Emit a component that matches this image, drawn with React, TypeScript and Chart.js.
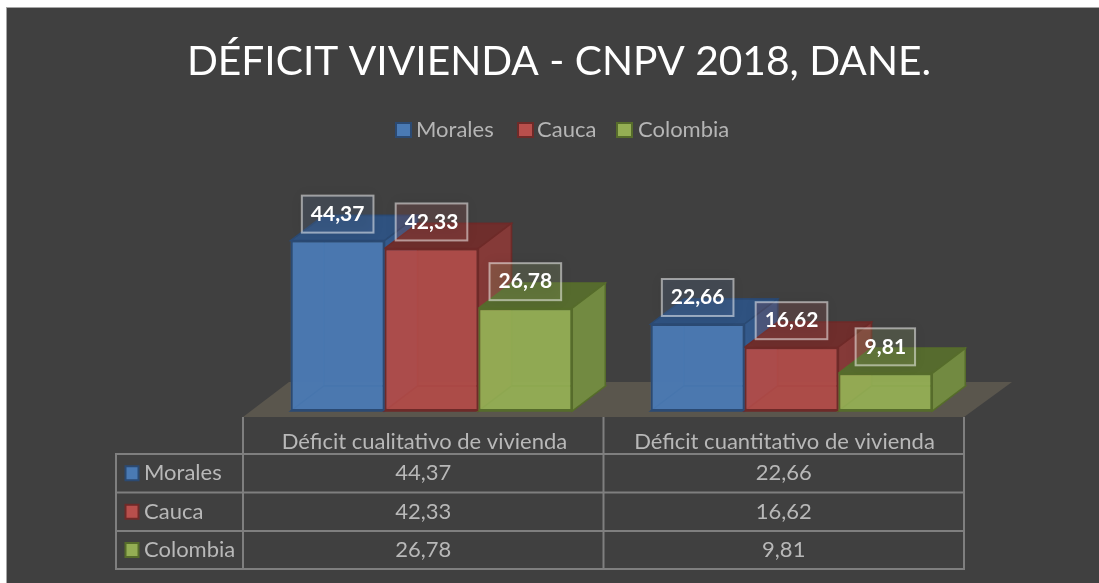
import React, { useEffect, useRef } from "react";
import { Chart, registerables } from "chart.js";

Chart.register(...registerables);

const titleText = "DÉFICIT VIVIENDA - CNPV 2018, DANE.";
const categories = ["Déficit cualitativo de vivienda", "Déficit cuantitativo de vivienda"];
const seriesNames = ["Morales", "Cauca", "Colombia"];
const morales = [44.37, 22.66];
const cauca = [42.33, 16.62];
const colombia = [26.78, 9.81];
const seriesValues = [morales, cauca, colombia];

const FONT = "Lato, Carlito, Calibri, sans-serif";
const fronts = ["rgba(74,122,180,0.9)", "rgba(176,75,72,0.9)", "rgba(148,174,84,0.9)"];
const borders = ["#2b4a73", "#6e2a28", "#566c2b"];
const tops = ["#2f5280", "#6f2e2c", "#566b2e"];
const sides = ["#345a8c", "#853a38", "#728a41"];
const hidden = ["rgba(74,122,180,0.55)", "rgba(176,75,72,0.55)", "rgba(148,174,84,0.55)"];
const labelFills = ["rgba(90,120,160,0.22)", "rgba(170,90,90,0.22)", "rgba(150,170,110,0.22)"];
const swatches = ["#4a7ab4", "#b84f4c", "#94ae54"];
const DX = 33;
const DY = -25;

const fmt = (v: number) => v.toFixed(2).replace(".", ",");

function poly(ctx: CanvasRenderingContext2D, pts: number[][], fill: string, stroke?: string) {
  ctx.beginPath();
  pts.forEach((p, i) => (i ? ctx.lineTo(p[0], p[1]) : ctx.moveTo(p[0], p[1])));
  ctx.closePath();
  ctx.fillStyle = fill;
  ctx.fill();
  if (stroke) {
    ctx.strokeStyle = stroke;
    ctx.lineWidth = 1.5;
    ctx.stroke();
  }
}

const decor = {
  id: "decor",
  beforeDraw(chart: any) {
    const { ctx, width, height } = chart;
    ctx.save();
    ctx.fillStyle = "#ffffff";
    ctx.fillRect(0, 0, width, height);
    ctx.fillStyle = "#a6a6a6";
    ctx.fillRect(6, 7, width - 6, height - 7);
    ctx.fillStyle = "#404040";
    ctx.fillRect(7, 8, width - 7, height - 8);
    ctx.restore();
  },
  beforeDatasetsDraw(chart: any) {
    const { ctx, chartArea } = chart;
    const b = chartArea.bottom;
    ctx.save();
    poly(ctx, [[243, b + 6], [289, b - 29], [1012, b - 29], [964, b + 6]], "#5a564d");
    // 3D faces of every bar, left series first; the fronts are the library's own bars
    seriesNames.forEach((_, i) => {
      chart.getDatasetMeta(i).data.forEach((el: any) => {
        const { x, y, base, width } = el.getProps(["x", "y", "base", "width"], true);
        const l = x - width / 2;
        const r = x + width / 2;
        poly(ctx, [[l + DX, y + DY], [r + DX, y + DY], [r + DX, base + DY], [l + DX, base + DY]], hidden[i], borders[i]);
        poly(ctx, [[l, base], [l + DX, base + DY], [l + DX, y + DY], [l, y]], hidden[i]);
        poly(ctx, [[l, base], [r, base], [r + DX, base + DY], [l + DX, base + DY]], hidden[i], borders[i]);
        poly(ctx, [[l, y], [r, y], [r + DX, y + DY], [l + DX, y + DY]], tops[i], borders[i]);
        poly(ctx, [[r, y], [r + DX, y + DY], [r + DX, base + DY], [r, base]], sides[i], borders[i]);
      });
    });
    ctx.restore();
  },
  afterDatasetsDraw(chart: any) {
    const { ctx } = chart;
    ctx.save();

    // data labels
    ctx.font = `bold 21px ${FONT}`;
    ctx.textAlign = "center";
    ctx.textBaseline = "middle";
    chart.data.datasets.forEach((ds: any, i: number) => {
      chart.getDatasetMeta(i).data.forEach((el: any, j: number) => {
        const text = fmt(ds.data[j]);
        const w = ctx.measureText(text).width + 18;
        const cx = el.x;
        const cy = el.y - 26.5;
        ctx.save();
        ctx.shadowColor = "rgba(0,0,0,0.35)";
        ctx.shadowBlur = 12;
        ctx.fillStyle = labelFills[i];
        ctx.fillRect(cx - w / 2, cy - 18.5, w, 37);
        ctx.restore();
        ctx.strokeStyle = "rgba(255,255,255,0.5)";
        ctx.lineWidth = 2;
        ctx.strokeRect(cx - w / 2, cy - 18.5, w, 37);
        ctx.fillStyle = "#ffffff";
        ctx.fillText(text, cx, cy);
      });
    });

    // title
    ctx.fillStyle = "#ffffff";
    ctx.font = `40.7px ${FONT}`;
    ctx.fillText(titleText, 559, 62);

    // legend
    const legendX = [396, 518, 617];
    const legendTextX = [416, 537, 638];
    ctx.textAlign = "left";
    ctx.font = `22px ${FONT}`;
    seriesNames.forEach((name, i) => {
      ctx.fillStyle = swatches[i];
      ctx.strokeStyle = borders[i];
      ctx.lineWidth = 2;
      ctx.fillRect(legendX[i], 123, 15, 14);
      ctx.strokeRect(legendX[i], 123, 15, 14);
      ctx.fillStyle = "#b5b5b5";
      ctx.fillText(name, legendTextX[i], 130);
    });

    // data table
    const colX = [243, 603.5, 964];
    const rowY = [454, 492.5, 531, 569];
    ctx.strokeStyle = "#7f7f7f";
    ctx.lineWidth = 2;
    ctx.beginPath();
    colX.forEach((x) => {
      ctx.moveTo(x, 417);
      ctx.lineTo(x, 570);
    });
    rowY.forEach((y) => {
      ctx.moveTo(115, y);
      ctx.lineTo(965, y);
    });
    ctx.moveTo(116, 454);
    ctx.lineTo(116, 570);
    ctx.stroke();

    seriesNames.forEach((name, i) => {
      const cy = (rowY[i] + rowY[i + 1]) / 2;
      ctx.fillStyle = swatches[i];
      ctx.strokeStyle = borders[i];
      ctx.lineWidth = 2;
      ctx.fillRect(125.5, cy - 7, 13, 14);
      ctx.strokeRect(125.5, cy - 7, 13, 14);
      ctx.fillStyle = "#b8b8b8";
      ctx.textAlign = "left";
      ctx.fillText(name, 144, cy);
      ctx.textAlign = "center";
      seriesValues[i].forEach((v, j) => {
        ctx.fillText(fmt(v), (colX[j] + colX[j + 1]) / 2, cy);
      });
    });
    ctx.restore();
  },
};

export default function App() {
  const ref = useRef<HTMLCanvasElement>(null);
  useEffect(() => {
    const chart = new Chart(ref.current!, {
      type: "bar",
      data: {
        labels: categories,
        datasets: seriesNames.map((name, i) => ({
          label: name,
          data: seriesValues[i],
          backgroundColor: fronts[i],
          borderColor: borders[i],
          borderWidth: 2,
          borderSkipped: false,
        })),
      },
      options: {
        responsive: false,
        animation: false,
        devicePixelRatio: 1,
        layout: { padding: { left: 251.5, right: 127.5, top: 219, bottom: 0 } },
        plugins: {
          legend: { display: false },
          title: { display: false },
          tooltip: { enabled: false },
        },
        datasets: { bar: { barPercentage: 1, categoryPercentage: 0.782 } },
        scales: {
          y: { display: false, min: 0, max: 50 },
          x: {
            grid: { display: false },
            border: { display: false },
            afterFit: (s: any) => {
              s.height = 172;
            },
            ticks: {
              color: "#b8b8b8",
              font: { family: FONT, size: 22 },
              padding: 10,
              labelOffset: -7,
              maxRotation: 0,
              autoSkip: false,
            },
          },
        },
      },
      plugins: [decor],
    } as any);
    return () => chart.destroy();
  }, []);
  return (
    <div style={{ position: "fixed", left: 0, top: 0 }}>
      <canvas ref={ref} width={1099} height={583} style={{ display: "block" }} />
    </div>
  );
}
